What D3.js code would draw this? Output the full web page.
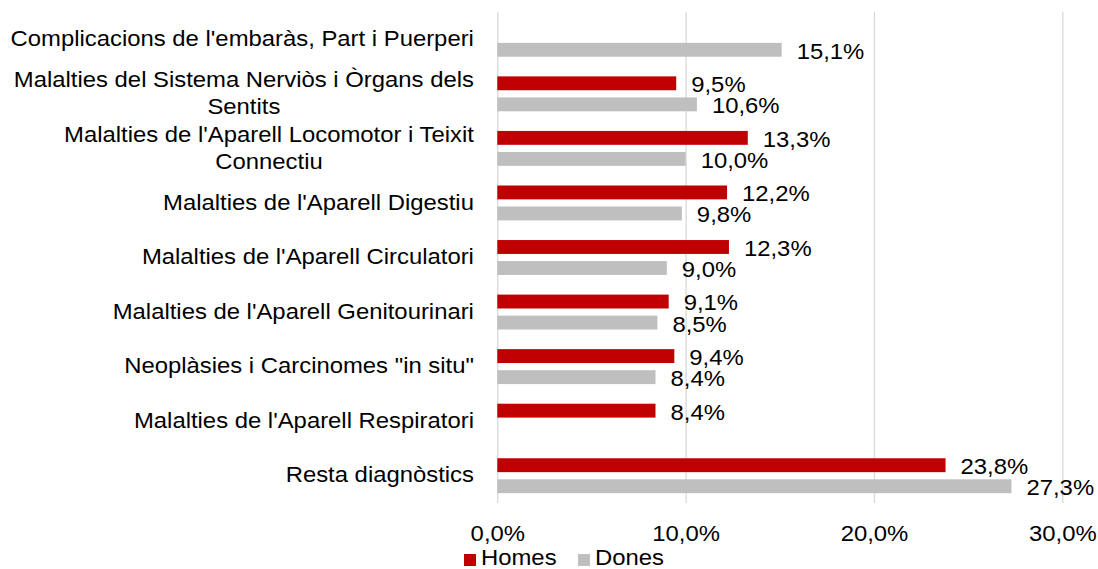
<!DOCTYPE html>
<html>
<head>
<meta charset="utf-8">
<script src="https://cdn.jsdelivr.net/npm/d3@7"></script>
<style>
  html, body { margin: 0; padding: 0; background: #fff; }
  svg text { font-family: "Liberation Sans", Arial, sans-serif; fill: #000; }
</style>
</head>
<body>
<svg id="chart" width="1098" height="569"></svg>
<script>
const categories = [
  ["Complicacions de l'embaràs, Part i Puerperi"],
  ["Malalties del Sistema Nerviòs i Òrgans dels", "Sentits"],
  ["Malalties de l'Aparell Locomotor i Teixit", "Connectiu"],
  ["Malalties de l'Aparell Digestiu"],
  ["Malalties de l'Aparell Circulatori"],
  ["Malalties de l'Aparell Genitourinari"],
  ["Neoplàsies i Carcinomes \"in situ\""],
  ["Malalties de l'Aparell Respiratori"],
  ["Resta diagnòstics "]
];
const seriesNames = ["Homes", "Dones"];
const homes = [null, 9.5, 13.3, 12.2, 12.3, 9.1, 9.4, 8.4, 23.8];
const dones = [15.1, 10.6, 10.0, 9.8, 9.0, 8.5, 8.4, null, 27.3];
const xTicks = [0, 10, 20, 30];
const colors = { Homes: "#c00000", Dones: "#bfbfbf" };

const fmt = v => d3.format(".1f")(v).replace(".", ",") + "%";

const svg = d3.select("#chart");
const pLeft = 497.3, pRight = 1062.3, pTop = 12, pBottom = 503;
const fs = 21.5;
const sx = 1.11; // horizontal stretch of the reference's text

const x = d3.scaleLinear().domain([0, 30]).range([pLeft, pRight]);
const ids = categories.map((c, i) => i);
const y = d3.scaleBand().domain(ids).range([pTop, pBottom]).paddingInner(0).paddingOuter(0);
const bw = y.bandwidth();
const ySub = d3.scaleBand().domain(seriesNames)
  .range([bw * 0.18, bw * 0.82]).paddingInner(0.34).paddingOuter(0);

// gridlines + tick labels
const gx = d3.axisBottom(x).tickValues(xTicks).tickSize(-(pBottom - pTop)).tickFormat(d => fmt(d));
const gAxis = svg.append("g").attr("transform", `translate(0,${pBottom})`).call(gx);
gAxis.select(".domain").remove();
gAxis.selectAll(".tick line").attr("stroke", "#d9d9d9").attr("stroke-width", 1.3);
gAxis.selectAll(".tick text").attr("font-size", fs).attr("dy", null).attr("y", 0)
  .attr("transform", `translate(0,37.5) scale(${sx},1)`)
  .style("font-family", '"Liberation Sans", Arial, sans-serif').attr("fill", "#000");

// bars
const rows = [];
ids.forEach(i => {
  if (homes[i] != null) rows.push({ i, s: "Homes", v: homes[i] });
  if (dones[i] != null) rows.push({ i, s: "Dones", v: dones[i] });
});

svg.append("g").selectAll("rect").data(rows).join("rect")
  .attr("x", x(0))
  .attr("y", d => y(d.i) + ySub(d.s))
  .attr("width", d => x(d.v) - x(0))
  .attr("height", ySub.bandwidth())
  .attr("fill", d => colors[d.s]);

svg.append("g").selectAll("text").data(rows).join("text")
  .attr("transform", d => `translate(${x(d.v) + 15},${y(d.i) + ySub(d.s) + ySub.bandwidth() / 2 + fs * 0.36 + 1.2}) scale(${sx},1)`)
  .attr("font-size", fs)
  .text(d => fmt(d.v));

// category labels
const labelRight = 474;
const catG = svg.append("g");
ids.forEach(i => {
  const lines = categories[i];
  const cy = y(i) + bw / 2;
  const lh = 27;
  const t = catG.append("text").attr("font-size", fs).attr("text-anchor", "middle");
  lines.forEach((ln, k) => {
    t.append("tspan").attr("x", 0)
      .attr("y", cy - 1 + fs * 0.36 + (k - (lines.length - 1) / 2) * lh)
      .text(ln);
  });
  const w = t.node().getBBox().width;
  t.attr("transform", `translate(${labelRight - w * sx / 2},0) scale(${sx},1)`);
});

// legend
const leg = svg.append("g");
const legItems = [{ n: "Homes", x: 464 }, { n: "Dones", x: 578 }];
legItems.forEach(it => {
  leg.append("rect").attr("x", it.x).attr("y", 554).attr("width", 12).attr("height", 12).attr("fill", colors[it.n]);
  leg.append("text").attr("transform", `translate(${it.x + 17},565) scale(${sx},1)`).attr("font-size", fs).text(it.n);
});
</script>
</body>
</html>
